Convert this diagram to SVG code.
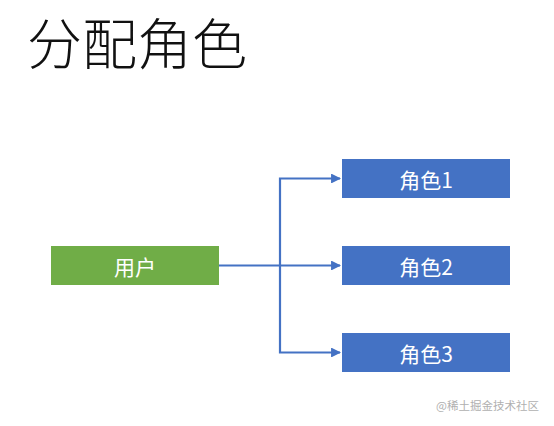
<svg xmlns="http://www.w3.org/2000/svg" width="554" height="426" viewBox="0 0 554 426">
<style>
.t{font-family:"Noto Sans CJK SC","Noto Sans",sans-serif;}
.lbl{font-family:"Noto Sans CJK SC","Noto Sans",sans-serif;font-size:21px;fill:#ffffff;text-anchor:middle;dominant-baseline:central;}
.role{fill:#4472C4;}
.user{fill:#70AD47;}
.conn{fill:none;stroke:#4472C4;stroke-width:2.2;}
</style>
<defs>
<marker id="ah" viewBox="0 0 10 10" refX="9" refY="5" markerWidth="5" markerHeight="4.5" orient="auto" markerUnits="strokeWidth">
<path d="M0,0 L10,5 L0,10 z" fill="#4472C4"/>
</marker>
</defs>
<rect width="554" height="426" fill="#ffffff"/>
<text class="t" x="27" y="64" font-size="55" font-weight="300" fill="#111111">分配角色</text>
<g id="connectors">
<path class="conn" d="M219,265.5 H340" marker-end="url(#ah)"/>
<path class="conn" d="M280,265.5 V178.5 H340" marker-end="url(#ah)"/>
<path class="conn" d="M280,265.5 V352.5 H340" marker-end="url(#ah)"/>
</g>
<g id="user">
<rect class="user" x="51" y="246" width="168" height="39"/>
<text class="lbl" x="135" y="265.5">用户</text>
</g>
<g id="role1">
<rect class="role" x="342" y="159" width="168" height="39"/>
<text class="lbl" x="426" y="178.5">角色1</text>
</g>
<g id="role2">
<rect class="role" x="342" y="246" width="168" height="39"/>
<text class="lbl" x="426" y="265.5">角色2</text>
</g>
<g id="role3">
<rect class="role" x="342" y="333" width="168" height="39"/>
<text class="lbl" x="426" y="352.5">角色3</text>
</g>
<text class="t" x="436" y="410" font-size="11.5" fill="#b0b0b0">@稀土掘金技术社区</text>
</svg>
